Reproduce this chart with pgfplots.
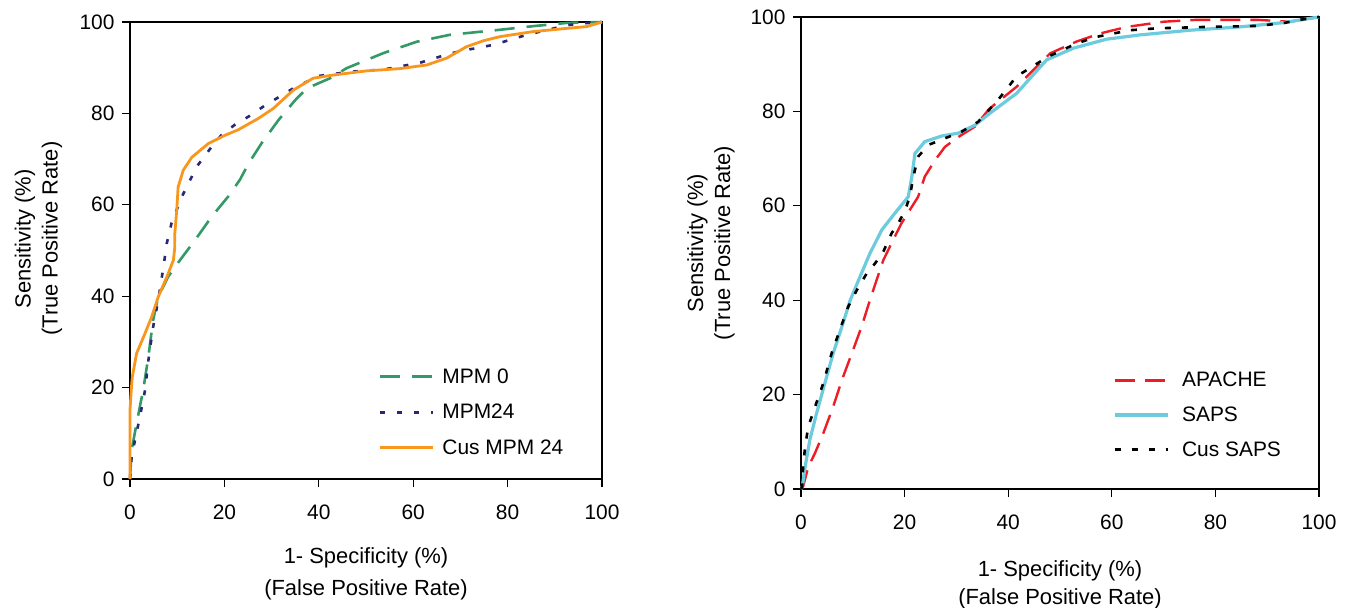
\documentclass[border=0pt]{standalone}
\usepackage{pgfplots}
\pgfplotsset{compat=1.18}
\usepackage{fontspec}
\setmainfont{Liberation Sans}
\definecolor{mgreen}{RGB}{51,153,102}
\definecolor{mnavy}{RGB}{40,40,120}
\definecolor{morange}{RGB}{248,150,30}
\definecolor{mred}{RGB}{238,28,37}
\definecolor{mcyan}{RGB}{108,203,221}
\pgfplotsset{
  myax/.style={
    scale only axis,
    xmin=0, xmax=100, ymin=0, ymax=100,
    xtick={0,20,40,60,80,100}, ytick={0,20,40,60,80,100},
    tick align=outside, tick pos=left,
    major tick length=8bp,
    axis line style={line width=1.2bp},
    every tick/.style={black, line width=1.2bp},
    clip=false,
    /pgf/number format/assume math mode=true,
    tick label style={font=\fontsize{21}{25}\selectfont},
    xticklabel style={yshift=-14bp},
    yticklabel style={xshift=-4bp},
    every axis x label/.style={anchor=center, align=center, font=\fontsize{22}{32}\selectfont},
    every axis y label/.style={rotate=90, anchor=center, align=center, font=\fontsize{22}{27}\selectfont},
    legend style={draw=none, fill=none, font=\fontsize{21}{25}\selectfont, cells={anchor=west}, row sep=15.5bp, anchor=north west},
    legend image code/.code={\draw[##1] (0bp,0bp) -- (53bp,0bp);},
  }
}
\begin{document}
\begin{tikzpicture}
\useasboundingbox (0,0) rectangle (1347bp,608bp);
\begin{axis}[myax, at={(130bp,129bp)}, anchor=south west, width=472bp, height=457bp,
  xlabel={1- Specificity (\%)\\(False Positive Rate)},
  ylabel={Sensitivity (\%)\\(True Positive Rate)},
  x label style={at={(axis description cs:0.5,-0.208)}},
  y label style={at={(axis description cs:-0.194,0.526)}},
  legend style={at={(axis cs:52,25.06)}, /tikz/every odd column/.append style={column sep=6bp}}]
\addplot[mgreen, line width=2.6bp, dash pattern=on 20bp off 12bp] coordinates {
(0,0)(0.35,6.3)(1.4,12.2)(2.8,19.5)(3.9,26.8)(4.9,34.8)(6,39.9)(8.1,44.3)(10.6,47.9)(13.8,52.3)(17.3,57.4)(20.8,61.8)(23.3,65.5)(25.1,69)(27.9,73.5)(31.5,78.6)(35,82.9)(37.5,85.5)(42.4,87.7)(45.9,89.9)(53.7,93.2)(60.8,95.7)(67.8,97.2)(78.4,98.3)(85.5,99.1)(92.6,99.8)(100,100)};
\addlegendentry{MPM 0}
\addplot[mnavy, line width=2.6bp, dash pattern=on 5bp off 12bp] coordinates {
(0,0)(0.35,4.9)(1.06,8.5)(2.1,13.6)(3.2,19.5)(3.9,26)(4.9,33.3)(6,39.2)(7.1,46.5)(7.8,51.6)(8.8,56)(11,61.8)(12.4,64.7)(14.1,68.3)(17.3,72.7)(19.4,75.3)(22.2,77.5)(25.1,79.3)(28.4,81.6)(34.6,85.5)(40,88.2)(46.6,89.1)(53.7,89.6)(61.5,91.1)(67.8,93.1)(71.4,93.9)(77,95)(84.1,97.2)(92.6,99.3)(96.1,99.7)(100,100)};
\addlegendentry{MPM24}
\addplot[morange, line width=2.8bp] coordinates {
(0,0)(0,15.1)(0.3,20)(0.5,22.4)(1.4,27.5)(3.2,31.9)(4.6,35.5)(6,39.9)(7.8,44.2)(9.2,47.9)(9.5,50.8)(9.5,53.8)(9.9,58.8)(10.2,63.9)(11.3,67.6)(13.1,70.4)(16.6,73.4)(20.1,75.2)(22.9,76.4)(27.2,78.9)(30.4,81.1)(34.6,85.1)(38.8,87.7)(43.1,88.4)(50.1,89.3)(57.2,89.8)(62.9,90.6)(67.1,92.1)(71.3,94.6)(74.9,95.9)(78.4,96.8)(85.4,97.9)(92.5,98.6)(96.8,99.0)(100,100)};
\addlegendentry{Cus MPM 24}
\end{axis}
\begin{axis}[myax, at={(801bp,119bp)}, anchor=south west, width=518bp, height=472bp,
  xlabel={1- Specificity (\%)\\(False Positive Rate)},
  ylabel={Sensitivity (\%)\\(True Positive Rate)},
  x label style={at={(axis description cs:0.5,-0.2034)}, font=\fontsize{22}{28}\selectfont},
  y label style={at={(axis description cs:-0.174,0.521)}},
  legend style={at={(axis cs:59.6,25.6)}, row sep=14.5bp, /tikz/every odd column/.append style={column sep=11bp}}]
\addplot[mred, line width=2.4bp, dash pattern=on 20bp off 10bp] coordinates {
(0,0)(0.4,0.5)(1.4,4.7)(2.7,7.6)(4.3,11.8)(6.2,17.4)(7.9,23.1)(9.8,28.7)(11.7,34.4)(13.3,40)(14.6,44.3)(15.9,48.5)(17.8,52.8)(19.4,56.3)(21.4,59.8)(22.6,61.9)(23.9,66.2)(25.9,69.7)(27.8,72.5)(30.4,74.6)(33.6,76.8)(36.3,80.5)(41.6,85.2)(48.1,92.3)(53.2,94.8)(57.7,96.5)(62.9,97.9)(70,99)(76.4,99.4)(88,99.4)(94.4,99)(100,100)};
\addlegendentry{APACHE}
\addplot[mcyan, line width=3.2bp] coordinates {
(0,0)(0.25,0.5)(0.8,4.7)(1.7,10.4)(3,16)(4.6,22.4)(6.2,28.7)(7.9,34.4)(9.5,40)(11.4,45)(13.3,49.9)(15.6,54.9)(18.1,58.4)(20.7,61.9)(21.4,66.2)(22,71.1)(23.9,73.6)(27.2,74.8)(30.4,75.4)(33.6,77.1)(36.7,79.8)(41.6,83.8)(47.4,90.9)(52.6,93.4)(59,95.3)(65.4,96.2)(75.1,97.2)(84.7,97.9)(93.1,98.8)(100,100)};
\addlegendentry{SAPS}
\addplot[black, line width=2.6bp, dash pattern=on 6bp off 11bp] coordinates {
(0,0)(0.25,0.5)(0.4,4.7)(0.8,9)(1.4,13.2)(2.7,17.4)(4.3,22.4)(5.9,28.7)(7.5,33.7)(9.1,38.6)(10.8,42.2)(12.7,45.7)(14.3,47.8)(15.9,50.3)(17.5,54.2)(18.8,56.3)(20.1,59.1)(21,61.9)(21.7,66.2)(22.6,70.4)(24.6,72.9)(27.8,74.3)(31,75.7)(34.2,77.8)(37.8,82.1)(41.6,87.4)(47.7,91.6)(53.2,94.4)(57.1,95.8)(63.5,97.2)(68.7,97.6)(78.3,97.9)(88,98.1)(93.1,98.7)(96.3,99.4)(100,100)};
\addlegendentry{Cus SAPS}
\end{axis}
\end{tikzpicture}
\end{document}
